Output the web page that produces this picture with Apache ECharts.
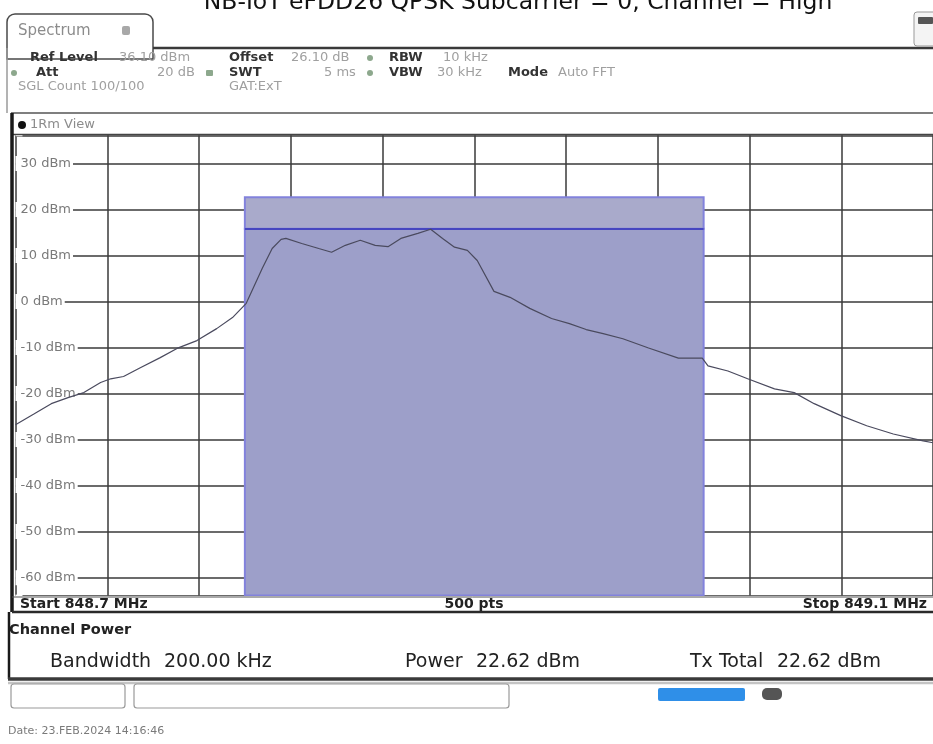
<!DOCTYPE html>
<html>
<head>
<meta charset="utf-8">
<script src="https://cdn.jsdelivr.net/npm/echarts@6/dist/echarts.min.js"></script>
<style>
  html, body { margin: 0; padding: 0; background: #ffffff; }
  #chart { width: 933px; height: 744px; }
</style>
</head>
<body>
<div id="chart"></div>
<script>
// Channel power sweep, 848.7 MHz .. 849.1 MHz.
// Frequencies are kept as offsets from the start frequency, in kHz.
const titleText = 'NB-IoT eFDD26 QPSK Subcarrier = 0, Channel = High';
const startLabel = 'Start 848.7 MHz';
const stopLabel = 'Stop 849.1 MHz';
const pointsLabel = '500 pts';
const spanKHz = 400;
const refLevel = 36.1;        // top of the screen, dBm
const bottomLevel = -63.9;    // ref level minus 10 divisions of 10 dB
const yTickValues = [30, 20, 10, 0, -10, -20, -30, -40, -50, -60];

const traceKHz = [0, 8.2, 15.6, 22.9, 29.8, 37.1, 41.5, 47.1, 54.4, 63.1,
  70.4, 79.1, 87.7, 94.6, 100.6, 107.6, 111.9, 115.8, 117.9, 124.8,
  132.2, 137.8, 143.8, 150.3, 156.8, 162.4, 168.0, 175.4, 181.0, 186.2,
  191.4, 197.0, 201.3, 208.6, 215.6, 224.2, 233.7, 241.5, 248.8, 256.2,
  264.8, 276.0, 289.0, 299.4, 301.9, 310.6, 319.2, 330.9, 339.5, 348.2,
  359.8, 371.1, 382.7, 395.7, 400];
const traceDBm = [-26.8, -24.4, -22.2, -20.9, -19.8, -17.6, -16.8, -16.3, -14.4, -12.2,
  -10.2, -8.5, -5.9, -3.5, -0.4, 7.2, 11.5, 13.5, 13.7, 12.6,
  11.5, 10.7, 12.2, 13.3, 12.2, 11.9, 13.7, 14.8, 15.7, 13.7,
  11.8, 11.1, 8.9, 2.2, 0.9, -1.5, -3.7, -4.8, -6.1, -7.0,
  -8.1, -10.1, -12.3, -12.3, -14.0, -15.1, -16.8, -19.0, -19.8, -22.2,
  -24.8, -27.0, -28.8, -30.3, -30.7];

// 200 kHz channel bar centred on 848.9 MHz
const channelKHz = [100, 300];
const channelPowerDBm = 22.62;
const channelLineDBm = 15.8;

// [text, bold, x]
const headerRow1 = [['Ref Level', true, 30], ['36.10 dBm', false, 119], ['Offset', true, 229], ['26.10 dB', false, 291], ['RBW', true, 389], ['10 kHz', false, 443]];
const headerRow2 = [['Att', true, 36], ['20 dB', false, 157], ['SWT', true, 229], ['5 ms', false, 324], ['VBW', true, 389], ['30 kHz', false, 437], ['Mode', true, 508], ['Auto FFT', false, 558]];
const headerRow3 = [['SGL Count 100/100', false, 18], ['GAT:ExT', false, 229]];
// label, value, label x, value x
const resultItems = [['Bandwidth', '200.00 kHz', 50, 164], ['Power', '22.62 dBm', 405, 476], ['Tx Total', '22.62 dBm', 690, 777]];
const dateText = 'Date: 23.FEB.2024 14:16:46';

const UI_FONT = '"DejaVu Sans", Verdana, sans-serif';

function text(x, y, s, font, fill, align) {
  return { type: 'text', x: x, y: y, silent: true, z: 20,
    style: { text: s, font: font, fill: fill, textAlign: align || 'left', textVerticalAlign: 'middle' } };
}
function line(x1, y1, x2, y2, color, w, z) {
  return { type: 'line', silent: true, z: z == null ? 20 : z,
    shape: { x1: x1, y1: y1, x2: x2, y2: y2 }, style: { stroke: color, lineWidth: w } };
}
function rect(x, y, w, h, fill, stroke, lw, r, z) {
  return { type: 'rect', silent: true, z: z == null ? 20 : z,
    shape: { x: x, y: y, width: w, height: h, r: r || 0 },
    style: { fill: fill, stroke: stroke, lineWidth: lw || 0 } };
}
function dot(cx, cy, r, color) {
  return { type: 'circle', silent: true, z: 20, shape: { cx: cx, cy: cy, r: r }, style: { fill: color } };
}

const graphics = [];
// title, partly above the top edge
graphics.push({ type: 'text', x: 518, y: 15, silent: true, z: 20,
  style: { text: titleText, font: '23.5px "DejaVu Sans"', fill: '#111', textAlign: 'center', textVerticalAlign: 'bottom' } });
// tab
graphics.push(rect(7, 14, 146, 45, '#fff', '#4a4a4a', 1.5, [8, 8, 0, 0], 18));
graphics.push(text(18, 31, 'Spectrum', '15px ' + UI_FONT, '#8c8c8c'));
graphics.push(rect(122, 26, 8, 9, '#a8a8a8', null, 0, 2));
graphics.push(line(153, 48, 933, 48, '#3a3a3a', 2.5));
graphics.push(line(7, 48, 7, 113, '#9a9a9a', 1.5));
// right corner icon
graphics.push(rect(914, 12, 24, 34, '#f4f4f4', '#999', 1, 3));
graphics.push(rect(918, 17, 15, 7, '#555', null, 0, 1));
// setting rows
[[headerRow1, 58], [headerRow2, 73], [headerRow3, 87]].forEach(function (row) {
  row[0].forEach(function (it) {
    graphics.push(text(it[2], row[1], it[0], (it[1] ? 'bold 13px ' : '13px ') + UI_FONT, it[1] ? '#333' : '#a0a0a0'));
  });
});
graphics.push(dot(370, 58, 3, '#8da88d'));
graphics.push(dot(14, 73, 3, '#8da88d'));
graphics.push(rect(206, 70, 7, 6, '#8da88d', null, 0, 1));
graphics.push(dot(370, 73, 3, '#8da88d'));
// view bar
graphics.push(line(11, 113, 933, 113, '#555', 1.5));
graphics.push(dot(22, 125, 4, '#111'));
graphics.push(text(30, 125, '1Rm View', '13px ' + UI_FONT, '#8c8c8c'));
graphics.push(line(11, 134.5, 933, 134.5, '#444', 1.5));
// left frame of the diagram panel
graphics.push(line(12, 113, 12, 612, '#1a1a1a', 3.5));
// frequency row below the diagram
graphics.push(rect(13, 596, 920, 15, '#fff', null, 0, 0, 15));
graphics.push(line(12, 597, 933, 597, '#555', 1));
graphics.push(text(20, 604.5, startLabel, 'bold 14px ' + UI_FONT, '#222'));
graphics.push(text(474, 604.5, pointsLabel, 'bold 14px ' + UI_FONT, '#222', 'center'));
graphics.push(text(927, 604.5, stopLabel, 'bold 14px ' + UI_FONT, '#222', 'right'));
graphics.push(line(12, 612, 933, 612, '#2a2a2a', 2.5));
// channel power result table
graphics.push(text(9, 630, 'Channel Power', 'bold 14.5px ' + UI_FONT, '#222'));
resultItems.forEach(function (it) {
  graphics.push(text(it[2], 662, it[0], '19px ' + UI_FONT, '#222'));
  graphics.push(text(it[3], 662, it[1], '19px ' + UI_FONT, '#222'));
});
graphics.push(line(9, 612, 9, 679, '#1a1a1a', 2.5));
graphics.push(line(8, 679, 933, 679, '#3a3a3a', 3.5));
graphics.push(line(8, 683, 933, 683, '#c4c4c4', 2.5));
// status bar
graphics.push(rect(11, 684, 114, 24, '#fff', '#9a9a9a', 1.2, 3));
graphics.push(rect(134, 684, 375, 24, '#fff', '#9a9a9a', 1.2, 3));
graphics.push(rect(658, 688, 87, 13, '#2f8fe8', null, 0, 2));
graphics.push(rect(762, 688, 20, 12, '#555', null, 0, 5));
graphics.push(text(8, 731, dateText, '11px ' + UI_FONT, '#7a7a7a'));

const chart = echarts.init(document.getElementById('chart'), null, { renderer: 'canvas' });
chart.setOption({
  animation: false,
  backgroundColor: '#ffffff',
  grid: { left: 15.5, top: 135.3, width: 925, height: 460.3, containLabel: false },
  xAxis: {
    type: 'value', min: 0, max: spanKHz, interval: spanKHz / 10,
    axisLine: { show: false }, axisTick: { show: false }, axisLabel: { show: false },
    splitLine: { show: true, lineStyle: { color: '#3a3a3a', width: 1.5 } }
  },
  yAxis: {
    type: 'value', min: bottomLevel, max: refLevel, splitNumber: 10,
    axisLine: { show: false }, axisTick: { show: false },
    axisLabel: {
      inside: true, margin: 0, color: '#7a7a7a', fontSize: 13, fontFamily: 'DejaVu Sans',
      backgroundColor: '#ffffff', padding: [1, 2, 1, 5],
      formatter: function (v) {
        const r = Math.round(v);
        return (Math.abs(v - r) < 1e-6 && yTickValues.indexOf(r) >= 0) ? r + ' dBm' : '';
      }
    },
    splitLine: { show: true, lineStyle: { color: '#3a3a3a', width: 1.5 } }
  },
  series: [{
    type: 'line',
    data: traceKHz.map(function (k, i) { return [k, traceDBm[i]]; }),
    symbol: 'none',
    lineStyle: { color: '#4a4a5e', width: 1.2 },
    silent: true,
    z: 5,
    markArea: {
      silent: true,
      data: [
        [{ xAxis: channelKHz[0], yAxis: bottomLevel, itemStyle: { color: '#9d9fc9', borderColor: '#8282dc', borderWidth: 2 } },
         { xAxis: channelKHz[1], yAxis: channelLineDBm }],
        [{ xAxis: channelKHz[0], yAxis: channelLineDBm, itemStyle: { color: '#a9aacb', borderColor: '#8282dc', borderWidth: 2 } },
         { xAxis: channelKHz[1], yAxis: channelPowerDBm }]
      ]
    },
    markLine: {
      silent: true, symbol: 'none', label: { show: false },
      lineStyle: { color: '#4646c0', width: 2, type: 'solid' },
      data: [[{ coord: [channelKHz[0], channelLineDBm] }, { coord: [channelKHz[1], channelLineDBm] }]]
    }
  }],
  graphic: graphics
});
</script>
</body>
</html>
